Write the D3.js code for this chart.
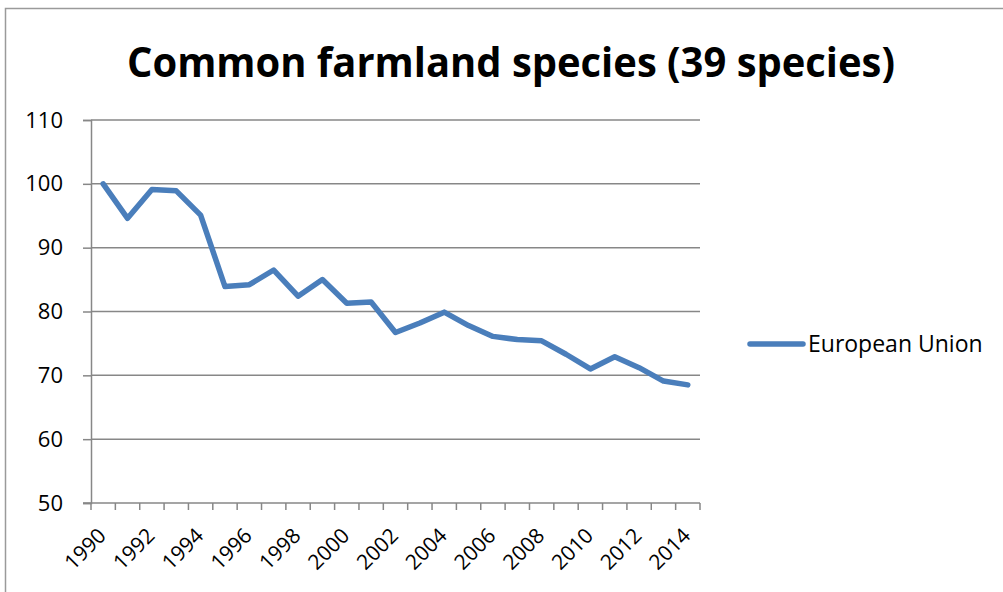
<!DOCTYPE html>
<html>
<head>
<meta charset="utf-8">
<script src="https://cdn.jsdelivr.net/npm/d3@7"></script>
<style>
  html, body { margin: 0; padding: 0; background: #fff; }
  svg { display: block; }
  text { font-family: "Open Sans", "Liberation Sans", sans-serif; fill: #000; }
</style>
</head>
<body>
<svg id="chart" width="1003" height="592"></svg>
<script>
// Farmland bird index, EU, 1990 = 100
const years = ["1990","1991","1992","1993","1994","1995","1996","1997","1998","1999",
               "2000","2001","2002","2003","2004","2005","2006","2007","2008","2009",
               "2010","2011","2012","2013","2014"];
const euIndex = [100, 94.6, 99.1, 98.9, 95.1, 83.9, 84.2, 86.5, 82.4, 85.0,
                 81.3, 81.5, 76.7, 78.2, 79.9, 77.8, 76.1, 75.6, 75.4, 73.3,
                 71.0, 72.9, 71.2, 69.1, 68.5];
const yTicks = [50, 60, 70, 80, 90, 100, 110];
const xTickLabels = years.filter((d, i) => i % 2 === 0);
const seriesName = "European Union";
const chartTitle = "Common farmland species (39 species)";

const svg = d3.select("#chart");
const lineColor = "#4a7ebb";
const gridColor = "#878787";

const plot = { left: 91, right: 700, top: 120, bottom: 503 };

// outer chart frame
svg.append("path")
  .attr("d", "M5.5,592 L5.5,8.5 L1003,8.5")
  .attr("fill", "none")
  .attr("stroke", "#9a9a9a")
  .attr("stroke-width", 1.5);

const x = d3.scaleBand().domain(years).range([plot.left, plot.right]);
const y = d3.scaleLinear().domain([50, 110]).range([plot.bottom, plot.top]);

// title
svg.append("text")
  .attr("x", 511)
  .attr("y", 77)
  .attr("text-anchor", "middle")
  .attr("font-size", 42)
  .attr("font-weight", "bold")
  .attr("textLength", 768)
  .attr("lengthAdjust", "spacingAndGlyphs")
  .text(chartTitle);

// horizontal gridlines
svg.append("g")
  .selectAll("line")
  .data(yTicks.filter(d => d !== 50))
  .join("line")
  .attr("x1", plot.left)
  .attr("x2", plot.right)
  .attr("y1", d => y(d))
  .attr("y2", d => y(d))
  .attr("stroke", gridColor)
  .attr("stroke-width", 1.5);

// y axis
const yAxis = svg.append("g")
  .attr("transform", `translate(${plot.left},0)`)
  .call(d3.axisLeft(y).tickValues(yTicks).tickSize(8).tickPadding(20));
yAxis.select(".domain").attr("stroke", gridColor).attr("stroke-width", 1.5);
yAxis.selectAll(".tick line").attr("stroke", gridColor).attr("stroke-width", 1.5);
yAxis.selectAll(".tick text")
  .attr("font-size", 22)
  .attr("fill", "#000");

// x axis: ticks on band boundaries
const xAxisG = svg.append("g");
xAxisG.append("line")
  .attr("x1", plot.left - 8)
  .attr("x2", plot.right)
  .attr("y1", plot.bottom)
  .attr("y2", plot.bottom)
  .attr("stroke", gridColor)
  .attr("stroke-width", 1.5);
const edges = years.map(d => x(d)).concat([x(years[years.length - 1]) + x.bandwidth()]);
xAxisG.selectAll("line.tk")
  .data(edges)
  .join("line")
  .attr("class", "tk")
  .attr("x1", d => d)
  .attr("x2", d => d)
  .attr("y1", plot.bottom)
  .attr("y2", plot.bottom + 7)
  .attr("stroke", gridColor)
  .attr("stroke-width", 1.5);
xAxisG.selectAll("text")
  .data(xTickLabels)
  .join("text")
  .attr("text-anchor", "end")
  .attr("font-size", 21)
  .attr("transform", d => `translate(${x(d) + x.bandwidth() / 2 + 4},${plot.bottom + 34}) rotate(-45)`)
  .text(d => d);

// series line
const line = d3.line()
  .x((d, i) => x(years[i]) + x.bandwidth() / 2)
  .y(d => y(d));
svg.append("path")
  .datum(euIndex)
  .attr("d", line)
  .attr("fill", "none")
  .attr("stroke", lineColor)
  .attr("stroke-width", 5.5)
  .attr("stroke-linejoin", "round")
  .attr("stroke-linecap", "round");

// legend
const legend = svg.append("g").attr("transform", "translate(750,344)");
legend.append("line")
  .attr("x1", 0).attr("x2", 53)
  .attr("y1", 0).attr("y2", 0)
  .attr("stroke", lineColor)
  .attr("stroke-width", 5.5)
  .attr("stroke-linecap", "round");
legend.append("text")
  .attr("x", 58)
  .attr("y", 8)
  .attr("font-size", 23)
  .text(seriesName);
</script>
</body>
</html>
